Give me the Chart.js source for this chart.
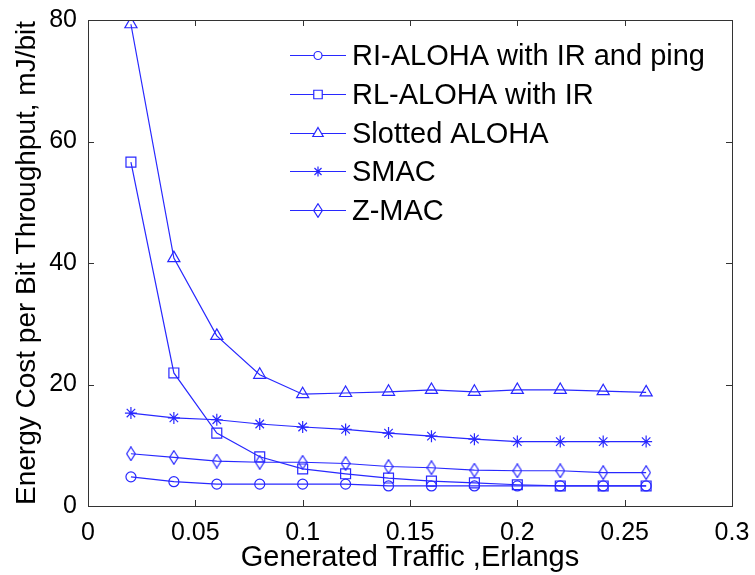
<!DOCTYPE html>
<html>
<head>
<meta charset="utf-8">
<script src="https://cdn.jsdelivr.net/npm/chart.js@4"></script>
<style>
  html, body { margin: 0; padding: 0; background: #fff; }
  #wrap { width: 755px; height: 575px; }
</style>
</head>
<body>
<div id="wrap"><canvas id="grafico" width="755" height="575"></canvas></div>
<script>
// datos
const trafico = [0.02, 0.04, 0.06, 0.08, 0.10, 0.12, 0.14, 0.16, 0.18, 0.20, 0.22, 0.24, 0.26];
const riAloha = [4.8, 4.0, 3.6, 3.6, 3.6, 3.6, 3.3, 3.3, 3.3, 3.3, 3.3, 3.3, 3.3];
const rlAloha = [56.6, 21.9, 12.0, 8.1, 6.1, 5.3, 4.6, 4.1, 3.8, 3.5, 3.3, 3.3, 3.3];
const slottedAloha = [79.3, 40.8, 28.0, 21.6, 18.4, 18.6, 18.8, 19.1, 18.8, 19.1, 19.1, 18.9, 18.7];
const smac = [15.3, 14.5, 14.2, 13.5, 13.0, 12.6, 12.0, 11.5, 11.0, 10.6, 10.6, 10.6, 10.6];
const zmac = [8.6, 8.0, 7.4, 7.2, 7.2, 7.0, 6.5, 6.3, 5.9, 5.8, 5.8, 5.5, 5.5];

const nombres = ["RI-ALOHA with IR and ping", "RL-ALOHA with IR", "Slotted ALOHA", "SMAC", "Z-MAC"];
const xTicks = [0, 0.05, 0.1, 0.15, 0.2, 0.25, 0.3];
const yTicks = [0, 20, 40, 60, 80];

const AZUL = "rgb(40,40,255)";
const FUENTE = "'Liberation Sans', Arial, sans-serif";

// rombo alto como en matlab
function crearRombo() {
    const c = document.createElement("canvas");
    c.width = 10;
    c.height = 15;
    const ctx = c.getContext("2d");
    ctx.strokeStyle = AZUL;
    ctx.lineWidth = 1.2;
    ctx.beginPath();
    ctx.moveTo(5, 0.7);
    ctx.lineTo(9.3, 7.5);
    ctx.lineTo(5, 14.3);
    ctx.lineTo(0.7, 7.5);
    ctx.closePath();
    ctx.stroke();
    return c;
}
const rombo = crearRombo();

function serie(nombre, valores, estilo, radio) {
    return {
        label: nombre,
        data: trafico.map((x, i) => ({ x: x, y: valores[i] })),
        showLine: true,
        borderColor: AZUL,
        backgroundColor: "rgba(0,0,0,0)",
        borderWidth: 1.2,
        pointStyle: estilo,
        pointRadius: radio,
        pointBorderWidth: 1.2,
        pointBorderColor: AZUL,
        pointBackgroundColor: "rgba(0,0,0,0)"
    };
}

const datasets = [
    serie(nombres[0], riAloha, "circle", 5),
    serie(nombres[1], rlAloha, "rect", 7),
    serie(nombres[2], slottedAloha, "triangle", 7),
    serie(nombres[3], smac, "star", 6),
    serie(nombres[4], zmac, rombo, 6)
];

// marco, ticks hacia dentro y leyenda
const marcoMatlab = {
    id: "marcoMatlab",
    afterDraw(chart) {
        const ctx = chart.ctx;
        const a = chart.chartArea;
        const sx = chart.scales.x;
        const sy = chart.scales.y;
        ctx.save();
        ctx.strokeStyle = "#333";
        ctx.lineWidth = 1;
        ctx.strokeRect(Math.round(a.left) + 0.5, Math.round(a.top) + 0.5,
            Math.round(a.right - a.left), Math.round(a.bottom - a.top));
        ctx.beginPath();
        xTicks.forEach(v => {
            const px = Math.round(sx.getPixelForValue(v)) + 0.5;
            ctx.moveTo(px, a.bottom);
            ctx.lineTo(px, a.bottom - 6);
            ctx.moveTo(px, a.top);
            ctx.lineTo(px, a.top + 6);
        });
        yTicks.forEach(v => {
            const py = Math.round(sy.getPixelForValue(v)) + 0.5;
            ctx.moveTo(a.left, py);
            ctx.lineTo(a.left + 6, py);
            ctx.moveTo(a.right, py);
            ctx.lineTo(a.right - 6, py);
        });
        ctx.stroke();

        // leyenda
        const x0 = 290, x1 = 346, xt = 352;
        ctx.font = "29px " + FUENTE;
        ctx.textBaseline = "middle";
        chart.data.datasets.forEach((ds, i) => {
            const y = Math.round(55 + i * 38.8) + 0.5;
            ctx.strokeStyle = AZUL;
            ctx.lineWidth = 1.2;
            ctx.beginPath();
            ctx.moveTo(x0, y);
            ctx.lineTo(x1, y);
            ctx.stroke();
            ctx.fillStyle = "#fff";
            Chart.helpers.drawPoint(ctx, {
                pointStyle: ds.pointStyle,
                radius: ds.pointRadius - 1,
                borderWidth: 1.2,
                rotation: 0
            }, (x0 + x1) / 2, y);
            ctx.fillStyle = "#000";
            ctx.fillText(ds.label, xt, y + 1);
        });
        ctx.restore();
    }
};

new Chart(document.getElementById("grafico"), {
    type: "scatter",
    data: { datasets: datasets },
    options: {
        responsive: false,
        animation: false,
        layout: { padding: { top: 20, right: 23, left: 0, bottom: 0 } },
        plugins: {
            legend: { display: false },
            tooltip: { enabled: false }
        },
        scales: {
            x: {
                type: "linear",
                min: 0,
                max: 0.3,
                afterBuildTicks: s => { s.ticks = xTicks.map(v => ({ value: v })); },
                afterFit: s => { s.height = 69; },
                grid: { display: false },
                border: { display: false },
                ticks: {
                    color: "#000",
                    padding: 4,
                    maxRotation: 0,
                    font: { family: FUENTE, size: 25 },
                    callback: v => String(Math.round(v * 100) / 100)
                },
                title: {
                    display: true,
                    text: "Generated Traffic ,Erlangs",
                    color: "#000",
                    font: { family: FUENTE, size: 29 },
                    padding: { top: 0, bottom: 0 }
                }
            },
            y: {
                min: 0,
                max: 80,
                afterBuildTicks: s => { s.ticks = yTicks.map(v => ({ value: v })); },
                afterFit: s => { s.width = 88; },
                grid: { display: false },
                border: { display: false },
                ticks: {
                    color: "#000",
                    padding: 3,
                    font: { family: FUENTE, size: 25 }
                },
                title: {
                    display: true,
                    text: "Energy Cost per Bit Throughput, mJ/bit",
                    color: "#000",
                    font: { family: FUENTE, size: 28 },
                    padding: { top: 10, bottom: 0 }
                }
            }
        }
    },
    plugins: [marcoMatlab]
});
</script>
</body>
</html>
